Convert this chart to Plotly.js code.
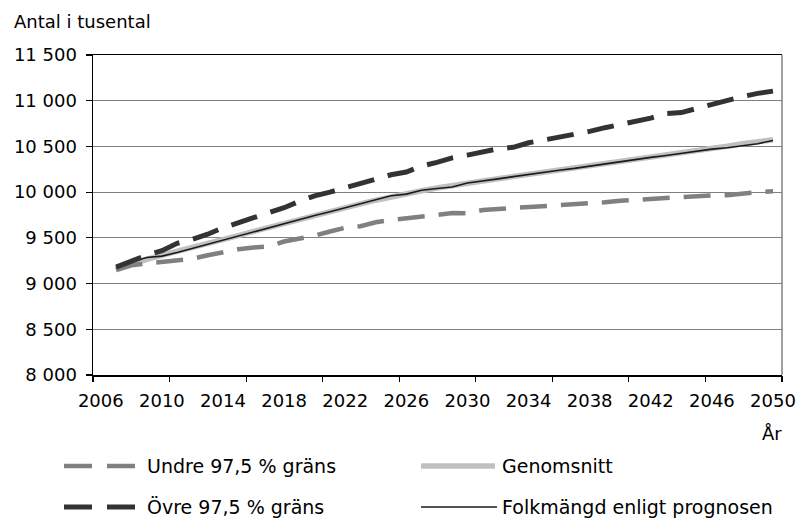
<!DOCTYPE html>
<html>
<head>
<meta charset="utf-8">
<script src="https://cdn.plot.ly/plotly-3.0.1.min.js"></script>
<style>html,body{margin:0;padding:0;background:#fff;}#chart{width:798px;height:521px;}</style>
</head>
<body>
<div id="chart"></div>
<script>
// ---- data (values in thousands) ----
const years = [2007,2008,2009,2010,2011,2012,2013,2014,2015,2016,2017,2018,2019,2020,2021,2022,2023,2024,2025,2026,2027,2028,2029,2030,2031,2032,2033,2034,2035,2036,2037,2038,2039,2040,2041,2042,2043,2044,2045,2046,2047,2048,2049,2050];

const undre = [9150,9200,9220,9235,9260,9272,9310,9345,9375,9395,9405,9460,9490,9525,9570,9610,9627,9670,9695,9710,9728,9750,9772,9768,9805,9815,9820,9835,9850,9857,9865,9875,9890,9905,9915,9930,9940,9942,9955,9965,9965,9985,10000,10010];

const ovre = [9180,9250,9310,9360,9440,9485,9540,9610,9660,9720,9775,9830,9900,9960,10000,10050,10100,10150,10190,10220,10285,10325,10375,10405,10440,10475,10490,10540,10570,10600,10625,10665,10705,10740,10775,10810,10860,10870,10915,10960,11005,11045,11080,11105];

const genomsnitt = [9150,9210,9265,9310,9350,9390,9435,9480,9525,9570,9615,9660,9705,9745,9785,9830,9872,9912,9950,9985,10015,10045,10075,10100,10122,10147,10170,10195,10218,10242,10264,10288,10310,10334,10358,10380,10403,10427,10450,10477,10502,10530,10550,10572];

const folkmangd = [9170,9235,9285,9300,9340,9385,9430,9480,9525,9570,9615,9660,9705,9745,9785,9830,9875,9915,9960,9978,10020,10040,10057,10100,10120,10145,10170,10195,10215,10240,10260,10285,10305,10330,10360,10380,10400,10425,10445,10470,10485,10510,10530,10565];

const xTickVals = [2006,2010,2014,2018,2022,2026,2030,2034,2038,2042,2046,2050];
const xTickText = ['2006','2010','2014','2018','2022','2026','2030','2034','2038','2042','2046','2050'];
const yTickVals = [8000,8500,9000,9500,10000,10500,11000,11500];
const yTickText = ['8 000','8 500','9 000','9 500','10 000','10 500','11 000','11 500'];

const names = ['Undre 97,5 % gräns','Övre 97,5 % gräns','Genomsnitt','Folkmängd enligt prognosen'];
const yTitle = 'Antal i tusental';
const xTitle = 'År';

// ---- styling ----
const FONT = 'DejaVu Sans, Arial, sans-serif';
const C_UNDRE = '#808080', C_OVRE = '#333333', C_GEN = '#c0c0c0', C_FOLK = '#1a1a1a';
const DASH = '27px,14px';

const traces = [
  {x: years, y: genomsnitt, name: names[2], mode: 'lines', line: {color: C_GEN, width: 5.5}, showlegend: false, hoverinfo: 'skip'},
  {x: years, y: folkmangd, name: names[3], mode: 'lines', line: {color: C_FOLK, width: 1.6}, showlegend: false, hoverinfo: 'skip'},
  {x: years, y: undre, name: names[0], mode: 'lines', line: {color: C_UNDRE, width: 4.5, dash: DASH}, showlegend: false, hoverinfo: 'skip'},
  {x: years, y: ovre, name: names[1], mode: 'lines', line: {color: C_OVRE, width: 5, dash: DASH}, showlegend: false, hoverinfo: 'skip'},
  {x: [], y: [], xaxis: 'x2', yaxis: 'y', showlegend: false, hoverinfo: 'skip'}
];

// plot-area pixel helpers for the hand-made legend
const L = 93, R = 782, T = 55, B = 375;
const pxX = v => (v - L) / (R - L);
const pxY = v => (B - v) / (B - T);

const row1 = 466, row2 = 507;
const shapes = [
  {type: 'line', xref: 'paper', yref: 'paper', x0: 1, x1: 1, y0: 0, y1: 1, line: {color: '#808080', width: 1.5}},
  {type: 'line', xref: 'paper', yref: 'paper', x0: pxX(64), x1: pxX(137), y0: pxY(row1), y1: pxY(row1), line: {color: C_UNDRE, width: 4.5, dash: '28px,15px'}},
  {type: 'line', xref: 'paper', yref: 'paper', x0: pxX(64), x1: pxX(137), y0: pxY(row2), y1: pxY(row2), line: {color: C_OVRE, width: 5, dash: '28px,15px'}},
  {type: 'line', xref: 'paper', yref: 'paper', x0: pxX(421), x1: pxX(495), y0: pxY(row1), y1: pxY(row1), line: {color: C_GEN, width: 5.5}},
  {type: 'line', xref: 'paper', yref: 'paper', x0: pxX(421), x1: pxX(497), y0: pxY(row2), y1: pxY(row2), line: {color: C_FOLK, width: 1.6}}
];

const legFont = {family: FONT, size: 19, color: '#000'};
const annotations = [
  {xref: 'paper', yref: 'paper', x: pxX(145), y: pxY(row1), xanchor: 'left', yanchor: 'middle', text: names[0], showarrow: false, font: legFont},
  {xref: 'paper', yref: 'paper', x: pxX(145), y: pxY(row2), xanchor: 'left', yanchor: 'middle', text: names[1], showarrow: false, font: legFont},
  {xref: 'paper', yref: 'paper', x: pxX(500), y: pxY(row1), xanchor: 'left', yanchor: 'middle', text: names[2], showarrow: false, font: legFont},
  {xref: 'paper', yref: 'paper', x: pxX(500), y: pxY(row2), xanchor: 'left', yanchor: 'middle', text: names[3], showarrow: false, font: legFont},
  {xref: 'paper', yref: 'paper', x: pxX(784), y: pxY(433), xanchor: 'right', yanchor: 'middle', text: xTitle, showarrow: false, font: {family: FONT, size: 18, color: '#000'}},
  {xref: 'paper', yref: 'paper', x: pxX(12), y: pxY(21), xanchor: 'left', yanchor: 'middle', text: yTitle, showarrow: false, font: {family: FONT, size: 18, color: '#000'}}
];

const layout = {
  width: 798, height: 521,
  margin: {l: L, r: 798 - R, t: T, b: 521 - B, pad: 0},
  paper_bgcolor: '#fff', plot_bgcolor: '#fff',
  font: {family: FONT, size: 18, color: '#000'},
  showlegend: false,
  xaxis: {
    range: [2005.49, 2050.59], tickvals: xTickVals, ticktext: xTickText,
    ticks: '', showgrid: false, zeroline: false,
    showline: true, linecolor: '#000', linewidth: 1.5, mirror: true,
    ticklabelstandoff: 9, tickfont: {family: FONT, size: 18, color: '#000'}
  },
  xaxis2: {
    overlaying: 'x', anchor: 'y', side: 'bottom', range: [0, 9],
    tickvals: [0,1,2,3,4,5,6,7,8,9], showticklabels: false,
    ticks: 'outside', ticklen: 6, tickwidth: 1.2, tickcolor: '#000',
    showgrid: false, zeroline: false, showline: false
  },
  yaxis: {
    range: [8000, 11500], tickvals: yTickVals, ticktext: yTickText,
    ticks: 'outside', ticklen: 6, tickwidth: 1.2, tickcolor: '#000',
    showgrid: true, gridcolor: '#808080', gridwidth: 1.2, zeroline: false,
    showline: true, linecolor: '#000', linewidth: 1.5,
    ticklabelstandoff: 5, tickfont: {family: FONT, size: 18, color: '#000'}
  },
  shapes: shapes,
  annotations: annotations
};

Plotly.newPlot('chart', traces, layout, {staticPlot: true, displayModeBar: false});
</script>
</body>
</html>
